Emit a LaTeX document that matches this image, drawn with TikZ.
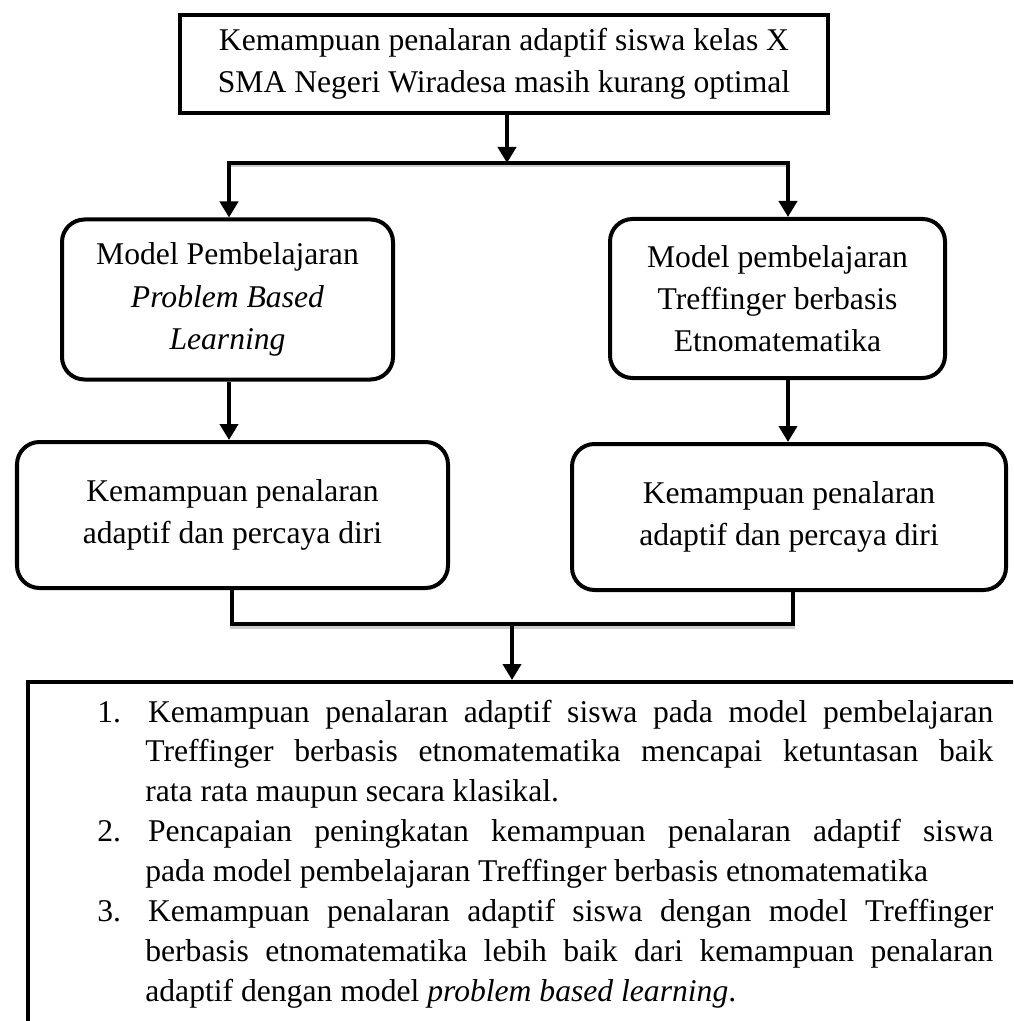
\documentclass[tikz,border=0pt]{standalone}
\usepackage{fontspec}
\setmainfont{Liberation Serif}
\usepackage{tikz}
\usetikzlibrary{arrows.meta, positioning}
\newcounter{nomor}
\hyphenpenalty=10000
\tikzset{
  kotak/.style={draw, line width=0.08cm, align=center, inner sep=0pt, font=\fontsize{18}{24}\selectfont},
  kotakbulat/.style={kotak, rounded corners=0.45cm},
  panah/.style={line width=0.08cm, -{Triangle[width=0.36cm,length=0.32cm]}},
  garis/.style={line width=0.08cm, line cap=rect, preaction={draw, black!20, line width=0.08cm, transform canvas={yshift=-0.05cm}}}
}

\begin{document}
\begin{tikzpicture}
\useasboundingbox (0,0) rectangle (20.26,-20.42);
\clip (0,0) rectangle (20.26,-20.42);

% Top box
\node[kotak, minimum width=12.96cm, minimum height=1.96cm] (masalah) at (10.08,-1.28) {Kemampuan penalaran adaptif siswa kelas X\\SMA Negeri Wiradesa masih kurang optimal};

% Model boxes
\node[kotakbulat, minimum width=6.62cm, minimum height=3.2cm] (pbl) at (4.55,-5.99) {Model Pembelajaran\\\textit{Problem Based}\\\textit{Learning}};
\node[kotakbulat, minimum width=6.7cm, minimum height=3.18cm] (treffinger) at (15.55,-5.97) {Model pembelajaran\\Treffinger berbasis\\Etnomatematika};

% Result boxes
\node[kotakbulat, minimum width=8.62cm, minimum height=2.92cm] (hasilpbl) at (4.65,-10.3) {Kemampuan penalaran\\adaptif dan percaya diri};
\node[kotakbulat, minimum width=8.68cm, minimum height=2.92cm] (hasiltreff) at (15.78,-10.34) {Kemampuan penalaran\\adaptif dan percaya diri};

% Conclusion box
\node[kotak, anchor=north west, minimum width=21cm, minimum height=8cm] (kesimpulan) at (0.52,-13.6) {};
\node[anchor=base west, inner sep=0pt, font=\fontsize{18}{22.7}\selectfont] (daftar) at (1.94,-14.44) {
\begin{minipage}[t]{17.92cm}
\begin{list}{\arabic{nomor}.}{\usecounter{nomor}\setlength{\leftmargin}{0.96cm}\setlength{\labelsep}{0.54cm}\setlength{\labelwidth}{0.42cm}\setlength{\itemsep}{0pt}\setlength{\parsep}{0pt}\setlength{\topsep}{0pt}}
\item Kemampuan penalaran adaptif siswa pada model pembelajaran\linebreak Treffinger berbasis etnomatematika mencapai ketuntasan baik\linebreak rata rata maupun secara klasikal.
\item Pencapaian peningkatan kemampuan penalaran adaptif siswa\linebreak pada model pembelajaran Treffinger berbasis etnomatematika
\item Kemampuan penalaran adaptif siswa dengan model Treffinger\linebreak berbasis etnomatematika lebih baik dari kemampuan penalaran\linebreak adaptif dengan model \textit{problem based learning}.
\end{list}
\end{minipage}
};

% Connectors
\coordinate (atas) at (10.14,-3.26);
\coordinate (kiri) at (4.58,-3.26);
\coordinate (kanan) at (15.76,-3.26);
\draw[panah] (masalah.south -| atas) -- (atas);
\draw[garis] (kiri) -- (kanan);
\draw[panah] (kiri) -- (kiri |- pbl.north);
\draw[panah] (kanan) -- (kanan |- treffinger.north);
\draw[panah] (pbl.south -| kiri) -- (kiri |- hasilpbl.north);
\draw[panah] (treffinger.south -| kanan) -- (kanan |- hasiltreff.north);

\coordinate (bawahkiri) at (4.64,-12.48);
\coordinate (bawahkanan) at (15.86,-12.48);
\coordinate (bawah) at (10.24,-12.48);
\draw[garis] (hasilpbl.south -| bawahkiri) -- (bawahkiri) -- (bawahkanan) -- (hasiltreff.south -| bawahkanan);
\draw[panah] (bawah) -- (kesimpulan.north -| bawah);
\end{tikzpicture}
\end{document}
